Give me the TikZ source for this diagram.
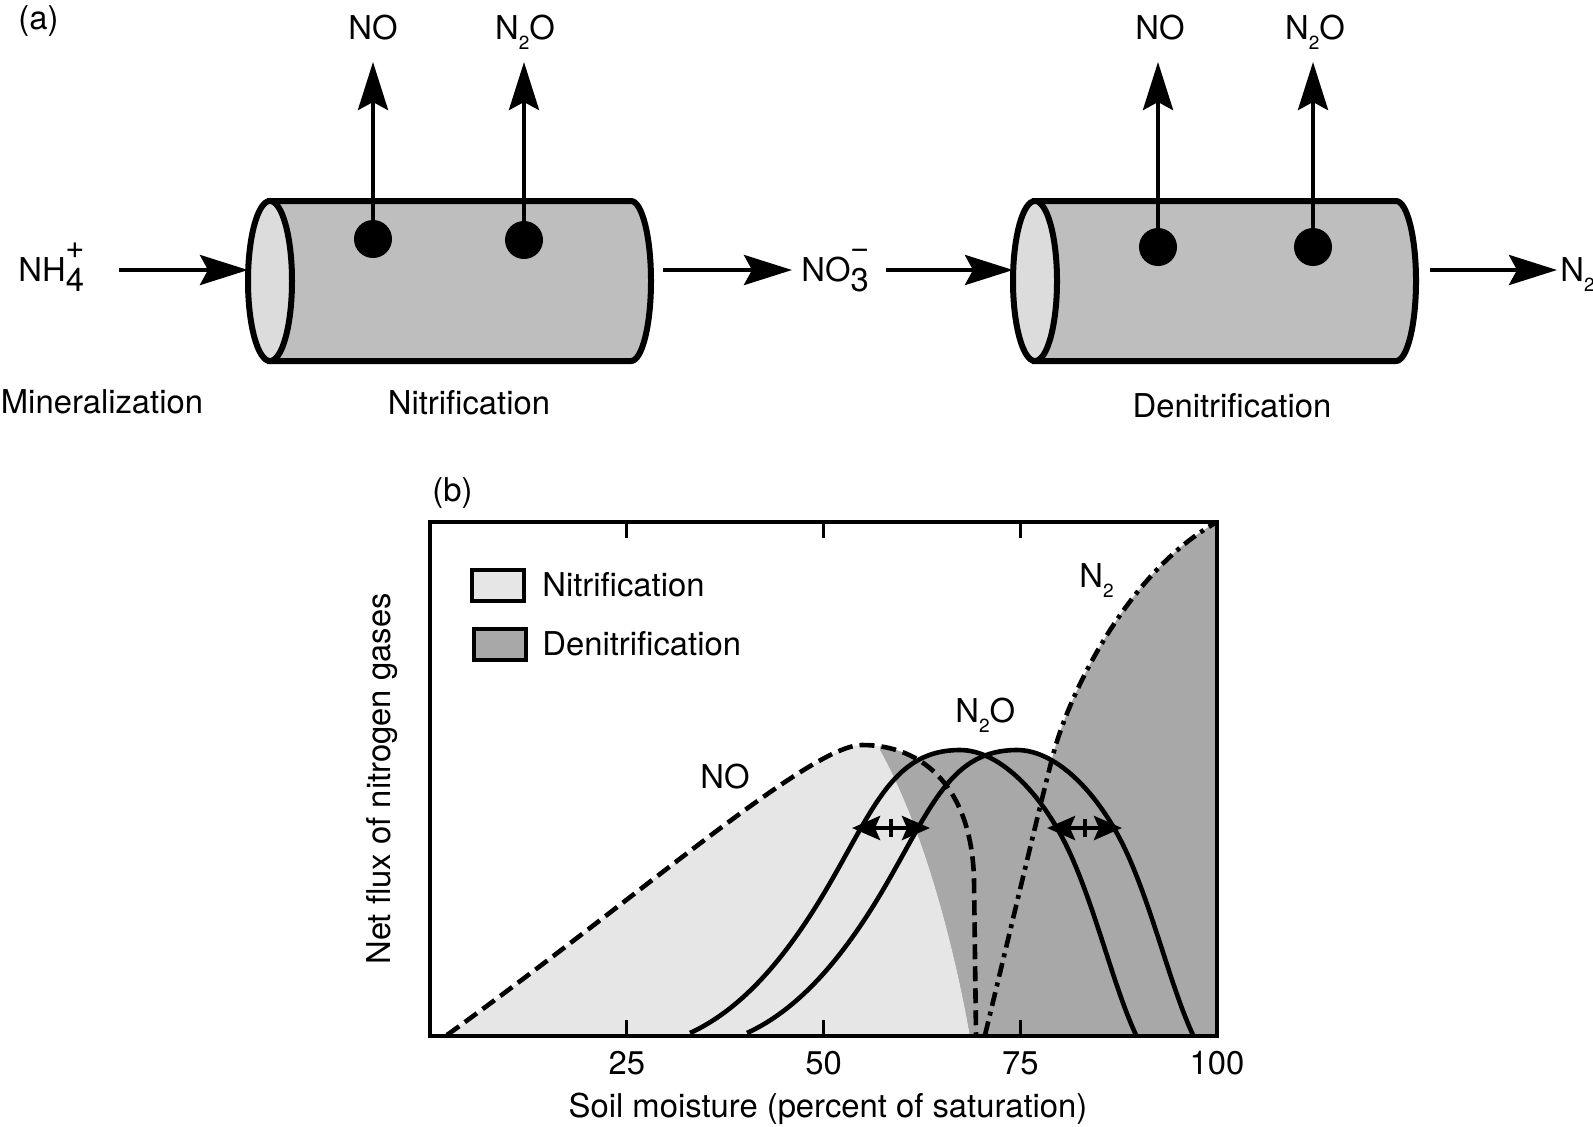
\documentclass[tikz,border=0pt]{standalone}
\usepackage{fontspec}
\setmainfont{TeX Gyre Heros}
\usetikzlibrary{arrows.meta}

\definecolor{nitfill}{RGB}{230,230,230}
\definecolor{denfill}{RGB}{168,168,168}
\definecolor{tubebody}{RGB}{190,190,190}
\definecolor{tubeend}{RGB}{220,220,220}

\newcommand{\lowsub}[1]{\raisebox{-5pt}{\fontsize{9.5}{10}\selectfont #1}}
\newcommand{\chemion}[3]{#1\setbox0\hbox{#2}\rlap{\raisebox{-5pt}{\copy0}}\raisebox{11.5pt}{\hbox to \wd0{\hss#3\hss}}}

% curves of panel (b)
\def\nopath{(447,1035) .. controls (640,896) and (810,745) .. (862,745) .. controls (925,745) and (972,790) .. (974,880) -- (976,1035)}
\def\nnopath{(690,1033) .. controls (740,1010) and (785,961) .. (830,883) .. controls (875,805) and (895,750) .. (960,750) .. controls (1000,750) and (1045,795) .. (1073,860) .. controls (1098,918) and (1115,990) .. (1136,1035)}
\def\nnpath{(985,1035) .. controls (1008,940) and (1040,805) .. (1053,755) .. controls (1070,690) and (1130,570) .. (1217,522)}
\def\splitpath{(970,1035) .. controls (955,950) and (925,830) .. (880,750)}

\tikzset{
  flow/.style={line width=2.2pt, -{Stealth[length=24pt,width=15pt,inset=4pt]}},
  tube/.style={line width=3pt, draw=black},
  dot/.style={circle, fill=black, inner sep=0pt, minimum size=19pt},
  nocurve/.style={line width=2.3pt, dash pattern=on 7.5pt off 3.5pt},
  nnocurve/.style={line width=2.3pt},
  nncurve/.style={line width=2.3pt, dash pattern=on 7pt off 3pt on 2pt off 3pt},
  tick/.style={line width=1.6pt},
  fluxarrow/.style={line width=2.2pt, {Stealth[length=14pt,width=12pt,inset=2.5pt]}-{Stealth[length=14pt,width=12pt,inset=2.5pt]}},
  legbox/.style={draw, line width=2pt, minimum width=26pt, minimum height=15.5pt, inner sep=0pt},
}

\begin{document}
\begin{tikzpicture}[x=0.5pt,y=0.5pt,yscale=-1,xscale=1,font=\fontsize{16.4}{20}\selectfont,every node/.append style={inner sep=0pt}]
\useasboundingbox (0,0) rectangle (1593,1126);

%Shape: tubes of panel (a)
\foreach \cx in {270,1035} {
  \draw[tube, fill=tubebody] (\cx,201) -- (\cx+361,201) arc[start angle=-90, end angle=90, x radius=20, y radius=80] -- (\cx,361) -- cycle;
  \draw[tube, fill=tubeend] (\cx,281) ellipse [x radius=22, y radius=80];
}

% gas release points
\node[dot] (nitNO) at (373,239) {};
\node[dot] (nitNNO) at (524,240) {};
\node[dot] (denNO) at (1158,247) {};
\node[dot] (denNNO) at (1313,247) {};
\coordinate (nitNOtip) at (373,62);
\coordinate (nitNNOtip) at (524,62);
\coordinate (denNOtip) at (1158,62);
\coordinate (denNNOtip) at (1313,62);
\draw[flow] (nitNO) -- (nitNOtip);
\draw[flow] (nitNNO) -- (nitNNOtip);
\draw[flow] (denNO) -- (denNOtip);
\draw[flow] (denNNO) -- (denNNOtip);

% horizontal flow
\coordinate (minout) at (119,270);
\coordinate (nitin) at (248,270);
\coordinate (nitout) at (663,270);
\coordinate (nitrate) at (792,270);
\coordinate (denin0) at (886,270);
\coordinate (denin) at (1013,270);
\coordinate (denout) at (1430,270);
\coordinate (dinitro) at (1557,270);
\draw[flow] (minout) -- (nitin);
\draw[flow] (nitout) -- (nitrate);
\draw[flow] (denin0) -- (denin);
\draw[flow] (denout) -- (dinitro);

% Text Node
\node[anchor=base west] (lbla) at (18,29) {(a)};
\node[anchor=base] (nitNOlab) at (373,39) {NO};
\node[anchor=base] (nitNNOlab) at (525,39) {N\lowsub{2}O};
\node[anchor=base] (denNOlab) at (1160,39) {NO};
\node[anchor=base] (denNNOlab) at (1315,39) {N\lowsub{2}O};
\node[anchor=base west] (ammonium) at (18,281) {\chemion{NH}{4}{+}};
\node[anchor=base west] (nitratelab) at (801,281) {\chemion{NO}{3}{−}};
\node[anchor=base west] (dinitrolab) at (1560,281) {N\lowsub{2}};
\node[anchor=base] (minlab) at (102,413) {Mineralization};
\node[anchor=base] (nitlab) at (469,414) {Nitrification};
\node[anchor=base] (denlab) at (1232,417) {Denitrification};

%Shape: fills of panel (b)
\begin{scope}
  \clip \splitpath -- (880,500) -- (430,500) -- (430,1035) -- cycle;
  \fill[nitfill] \nopath -- cycle;
\end{scope}
\begin{scope}
  \clip \splitpath -- (880,500) -- (1217,500) -- (1217,1035) -- cycle;
  \fill[denfill] \nopath -- cycle;
  \foreach \dx in {0,57} {
    \fill[denfill, shift={(\dx,0)}] \nnopath -- cycle;
  }
  \fill[denfill] \nnpath -- (1217,1035) -- cycle;
\end{scope}

%Curve Lines
\draw[nocurve] \nopath;
\foreach \dx in {0,57} {
  \draw[nnocurve, shift={(\dx,0)}] \nnopath;
}
\draw[nncurve] \nnpath;

% frame and ticks
\draw[line width=1.8pt] (430,522) rectangle (1217,1036);
\foreach \t/\lab in {1/25, 2/50, 3/75} {
  \draw[tick] (430+196.75*\t,1036) -- ++(0,-16);
  \draw[tick] (430+196.75*\t,522) -- ++(0,16);
  \node[anchor=base] at (430+196.75*\t,1074) {\lab};
}
\node[anchor=base] (xmax) at (1217,1074) {100};

% shift arrows
\coordinate (shiftAl) at (852,828);
\coordinate (shiftAr) at (930,828);
\coordinate (shiftBl) at (1047,828);
\coordinate (shiftBr) at (1122,828);
\draw[fluxarrow] (shiftAl) -- (shiftAr);
\draw[fluxarrow] (shiftBl) -- (shiftBr);
\draw[tick] (891,819) -- (891,837);
\draw[tick] (1085,819) -- (1085,837);

% legend
\node[legbox, fill=nitfill] (legnit) at (498,585) {};
\node[legbox, fill=denfill] (legden) at (500,644) {};
\node[anchor=base west] (legnitlab) at (542,596) {Nitrification};
\node[anchor=base west] (legdenlab) at (542,655) {Denitrification};

% Text Node
\node[anchor=base west] (lblb) at (432,501) {(b)};
\node[anchor=base west] (nnlab) at (1079,587) {N\lowsub{2}};
\node[anchor=base west] (nnolab) at (955,722) {N\lowsub{2}O};
\node[anchor=base west] (nolab) at (700,788) {NO};
\node[anchor=base] (xlab) at (828,1117) {Soil moisture (percent of saturation)};
\node[anchor=base, rotate=90] (ylab) at (390,779) {Net flux of nitrogen gases};
\end{tikzpicture}
\end{document}
